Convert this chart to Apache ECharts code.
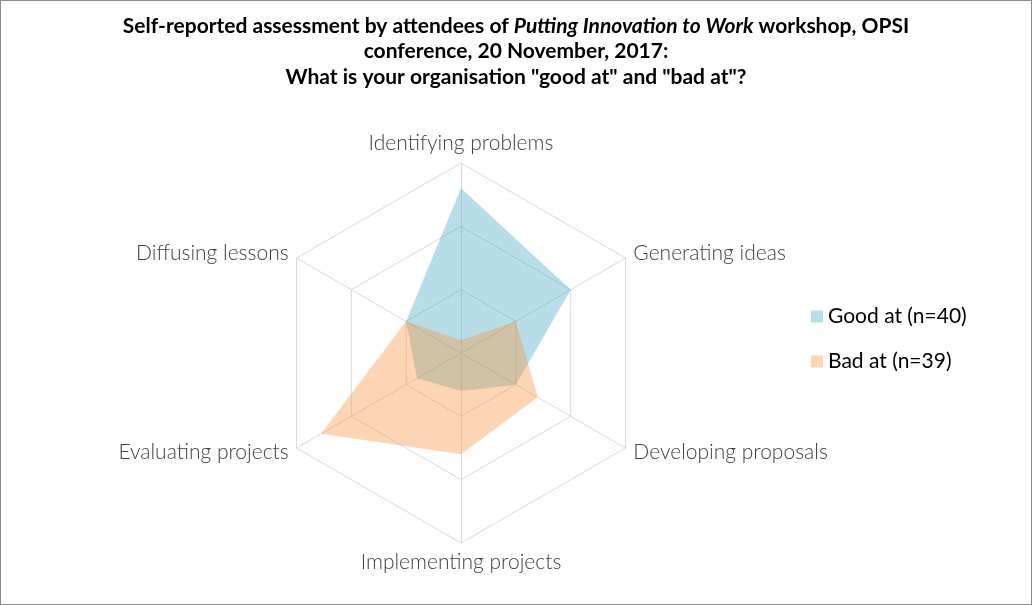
<!DOCTYPE html>
<html>
<head>
<meta charset="utf-8">
<script src="https://cdn.jsdelivr.net/npm/echarts@6/dist/echarts.min.js"></script>
<style>
  html, body { margin: 0; padding: 0; background: #fff; }
  #chart { width: 1030px; height: 603px; border: 1px solid #8c8c8c; }
</style>
</head>
<body>
<div id="chart"></div>
<script>
// order: counter-clockwise from the top
const categories = ['Identifying problems', 'Diffusing lessons', 'Evaluating projects',
                    'Implementing projects', 'Developing proposals', 'Generating ideas'];
const goodAt = [52, 20, 16, 12, 20, 40];
const badAt = [4, 20, 51, 32, 28, 20];
const seriesNames = ['Good at (n=40)', 'Bad at (n=39)'];
const axisMax = 60;

const chart = echarts.init(document.getElementById('chart'));

chart.setOption({
    backgroundColor: '#fff',
    title: {
        text: '{b|Self-reported assessment by attendees of }{i|Putting Innovation to Work}{b| workshop, OPSI}\n{b|conference, 20 November, 2017:}\n{b|What is your organisation "good at" and "bad at"?}',
        left: 'center',
        top: 7,
        textStyle: {
            rich: {
                b: { fontFamily: 'Lato', fontWeight: 'bold', fontSize: 21, color: '#000', lineHeight: 25.5 },
                i: { fontFamily: 'Lato', fontWeight: 'bold', fontStyle: 'italic', fontSize: 21, color: '#000', lineHeight: 25.5 }
            }
        }
    },
    legend: {
        data: [
            { name: seriesNames[0], itemStyle: { color: '#b7dee8' } },
            { name: seriesNames[1], itemStyle: { color: '#fcd5b4' } }
        ],
        orient: 'vertical',
        left: 810,
        top: 305,
        padding: 0,
        itemGap: 24,
        itemWidth: 12,
        itemHeight: 12,
        icon: 'rect',
        textStyle: { fontFamily: 'Lato', fontSize: 21, color: '#000' }
    },
    radar: {
        center: [460, 352],
        radius: 190,
        splitNumber: 3,
        indicator: categories.map(name => ({ name, max: axisMax, min: 0 })),
        axisName: { fontFamily: 'Lato', fontWeight: 300, fontSize: 21, color: '#404040' },
        nameGap: 9,
        axisLine: { lineStyle: { color: '#d9d9d9', width: 1 } },
        splitLine: { lineStyle: { color: '#d9d9d9', width: 1 } },
        splitArea: { show: false }
    },
    series: [{
        type: 'radar',
        symbol: 'none',
        data: [
            { name: seriesNames[0], value: goodAt,
              itemStyle: { color: '#4bacc6' },
              lineStyle: { width: 0 },
              areaStyle: { color: '#4bacc6', opacity: 0.4 } },
            { name: seriesNames[1], value: badAt,
              itemStyle: { color: '#f79646' },
              lineStyle: { width: 0 },
              areaStyle: { color: '#f79646', opacity: 0.4 } }
        ]
    }]
});
</script>
</body>
</html>
